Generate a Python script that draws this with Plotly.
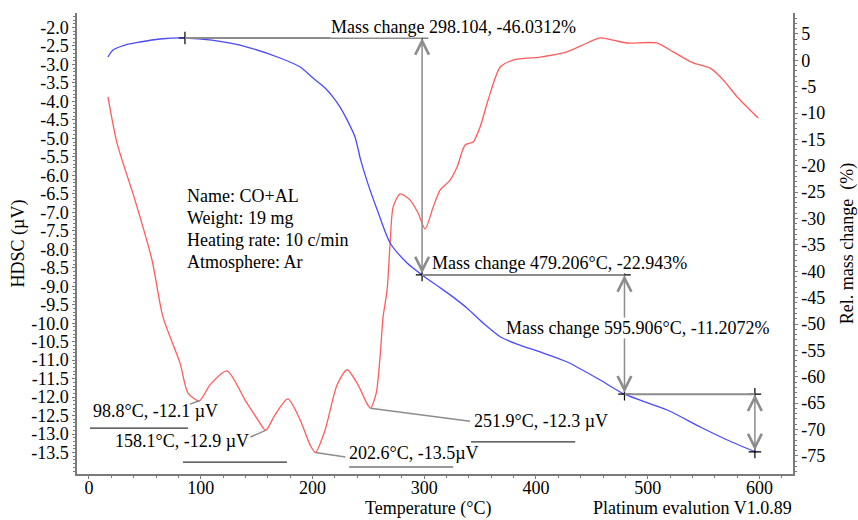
import plotly.graph_objects as go

# ---------------- data ----------------
# HDSC curve (left axis, µV)
dsc_temp = [17.0, 25.1, 41.2, 56.4, 66.2, 81.5, 88.6, 98.8, 108.3, 123.5, 139.7, 151.3, 158.1,
            166.5, 178.0, 189.0, 198.0, 202.6, 211.3, 222.0, 231.0, 240.8, 248.0, 251.9, 257.0,
            260.5, 263.2, 266.8, 269.5, 272.2, 278.4, 287.4, 294.5, 300.8, 308.0, 314.2, 323.2,
            329.5, 336.6, 343.8, 350.0, 357.2, 368.0, 379.6, 403.8, 424.4, 440.0, 457.5, 470.0,
            481.6, 508.5, 522.8, 540.7, 555.9, 567.6, 580.1, 598.9]
dsc_val = [-3.88, -5.13, -6.67, -8.29, -9.83, -11.08, -11.89, -12.10, -11.67, -11.29, -12.08, -12.62, -12.90,
           -12.48, -12.05, -12.62, -13.30, -13.50, -12.89, -11.67, -11.26, -11.67, -12.13, -12.30, -11.90,
           -10.91, -9.83, -9.10, -7.83, -6.86, -6.50, -6.67, -7.02, -7.45, -6.86, -6.40, -6.13,
           -5.77, -5.18, -5.10, -4.69, -3.96, -3.07, -2.88, -2.80, -2.69, -2.50, -2.28, -2.35,
           -2.42, -2.42, -2.66, -2.96, -3.10, -3.42, -3.88, -4.45]

# Relative mass change curve (right axis, %)
tg_temp = [17.0, 21.5, 32.2, 45.7, 63.6, 85.9, 110.0, 141.5, 171.0, 189.0, 200.5, 211.3, 218.4,
           224.7, 231.0, 238.0, 243.0, 249.0, 258.0, 269.5, 284.7, 298.1, 312.0, 325.9, 338.4, 352.7,
           368.0, 383.0, 406.5, 428.0, 457.5, 479.2, 517.5, 547.0, 571.2, 597.0]
tg_val = [0.62, 1.94, 2.89, 3.46, 4.03, 4.22, 3.80, 2.51, 0.43, -1.28, -3.36, -5.26, -6.97,
          -8.87, -11.30, -14.50, -18.80, -23.00, -28.40, -34.64, -38.43, -40.70, -42.80, -44.90, -47.00, -49.80,
          -52.40, -53.80, -55.50, -57.20, -60.62, -63.30, -66.30, -69.52, -71.98, -74.30]

# Mass-change evaluation points
mass_event_temp = [85.9, 298.1, 479.2, 595.9]
mass_event_val = [4.22, -40.70, -63.30, -74.25]
mass_event_labels = ["Mass change 298.104, -46.0312%",
                     "Mass change 479.206°C, -22.943%",
                     "Mass change 595.906°C, -11.2072%"]

# DSC peak evaluation points
peak_temp = [98.8, 158.1, 202.6, 251.9]
peak_val = [-12.1, -12.9, -13.5, -12.3]
peak_labels = ["98.8°C, -12.1 µV", "158.1°C, -12.9 µV", "202.6°C, -13.5µV", "251.9°C, -12.3 µV"]

info_lines = ["Name: CO+AL", "Weight: 19 mg", "Heating rate: 10 c/min", "Atmosphere: Ar"]

left_tickvals = [-2.0, -2.5, -3.0, -3.5, -4.0, -4.5, -5.0, -5.5, -6.0, -6.5, -7.0, -7.5, -8.0,
                 -8.5, -9.0, -9.5, -10.0, -10.5, -11.0, -11.5, -12.0, -12.5, -13.0, -13.5]
left_ticktext = ["-2.0", "-2.5", "-3.0", "-3.5", "-4.0", "-4.5", "-5.0", "-5.5", "-6.0", "-6.5",
                 "-7.0", "-7.5", "-8.0", "-8.5", "-9.0", "-9.5", "-10.0", "-10.5", "-11.0",
                 "-11.5", "-12.0", "-12.5", "-13.0", "-13.5"]
right_tickvals = [5, 0, -5, -10, -15, -20, -25, -30, -35, -40, -45, -50, -55, -60, -65, -70, -75]
right_ticktext = ["5", "0", "-5", "-10", "-15", "-20", "-25", "-30", "-35", "-40", "-45", "-50",
                  "-55", "-60", "-65", "-70", "-75"]
x_tickvals = [0, 100, 200, 300, 400, 500, 600]
x_ticktext = ["0", "100", "200", "300", "400", "500", "600"]

# ---------------- layout constants ----------------
FONT = "Liberation Serif, Times New Roman, serif"
FS = 18
GRAY = "#8c8c8c"
AXIS = "#7a7a7a"

# label placement (text centre x, y; underline x0, x1, y; leader start x, y) in left-axis data units
peak_label_layout = [
    dict(tx=59.1, ty=-12.38, ux0=0.9, ux1=88.6, uy=-12.84, lx=90.4, ly=-12.19),
    dict(tx=83.5, ty=-13.19, ux0=84.1, ux1=177.2, uy=-13.76, lx=144.5, ly=-13.08),
    dict(tx=291.0, ty=-13.51, ux0=232.8, ux1=325.9, uy=-13.89, lx=229.5, ly=-13.62),
    dict(tx=404.7, ty=-12.65, ux0=341.9, ux1=435.1, uy=-13.21, lx=341.0, ly=-12.65),
]
mass_label_layout = [(215.8, 6.3), (306.2, -38.43), (372.4, -50.75)]

fig = go.Figure()

fig.add_trace(go.Scatter(x=dsc_temp, y=dsc_val, mode="lines", name="HDSC",
                         line=dict(color="#ff5c5c", width=1.3, shape="spline", smoothing=0.7),
                         yaxis="y"))
fig.add_trace(go.Scatter(x=tg_temp, y=tg_val, mode="lines", name="Mass change",
                         line=dict(color="#4a4aff", width=1.3, shape="spline", smoothing=0.7),
                         yaxis="y2"))

shapes = []
annotations = []
cross_x, cross_y = [mass_event_temp[0]], [mass_event_val[0]]

for i in range(1, len(mass_event_temp)):
    t0, v0 = mass_event_temp[i - 1], mass_event_val[i - 1]
    t1, v1 = mass_event_temp[i], mass_event_val[i]
    shapes.append(dict(type="line", xref="x", yref="y2", x0=t0, x1=t1, y0=v0, y1=v0,
                       line=dict(color=GRAY, width=2)))
    annotations.append(dict(x=t1, y=v0, ax=t1, ay=v1, xref="x", yref="y2", axref="x", ayref="y2",
                            text="", showarrow=True, arrowhead=5, startarrowhead=5,
                            arrowside="end+start", arrowsize=1.8, startarrowsize=1.8,
                            arrowwidth=1.5, arrowcolor=GRAY, standoff=0, startstandoff=0))
    cross_x += [t1, t1]
    cross_y += [v0, v1]

fig.add_trace(go.Scatter(x=cross_x, y=cross_y, mode="markers", yaxis="y2", showlegend=False,
                         marker=dict(symbol="cross-thin", size=9, line=dict(color="black", width=1.2))))

for (lx, ly), txt in zip(mass_label_layout, mass_event_labels):
    annotations.append(dict(x=lx, y=ly, xref="x", yref="y2", text=txt, showarrow=False,
                            xanchor="left", yanchor="middle", bgcolor="white", borderpad=0,
                            font=dict(family=FONT, size=FS, color="black")))

for t, v, txt, L in zip(peak_temp, peak_val, peak_labels, peak_label_layout):
    shapes.append(dict(type="line", xref="x", yref="y", x0=L["lx"], y0=L["ly"], x1=t, y1=v,
                       line=dict(color=GRAY, width=1.5)))
    shapes.append(dict(type="line", xref="x", yref="y", x0=L["ux0"], x1=L["ux1"], y0=L["uy"], y1=L["uy"],
                       line=dict(color="#333333", width=1.2)))
    annotations.append(dict(x=L["tx"], y=L["ty"], xref="x", yref="y", text=txt, showarrow=False,
                            xanchor="center", yanchor="middle",
                            font=dict(family=FONT, size=FS, color="black")))

info_y = [-6.56, -7.155, -7.75, -8.345]
for yy, txt in zip(info_y, info_lines):
    annotations.append(dict(x=86, y=yy, xref="x", yref="y", text=txt, showarrow=False,
                            xanchor="left", yanchor="middle",
                            font=dict(family=FONT, size=FS, color="black")))

annotations.append(dict(x=0.859, y=-0.0738, xref="paper", yref="paper", text="Platinum evalution V1.0.89",
                        showarrow=False, xanchor="center", yanchor="middle",
                        font=dict(family=FONT, size=FS, color="black")))
annotations.append(dict(x=0.49, y=-0.0738, xref="paper", yref="paper", text="Temperature (°C)",
                        showarrow=False, xanchor="center", yanchor="middle",
                        font=dict(family=FONT, size=FS, color="black")))

fig.update_layout(
    width=858, height=520,
    margin=dict(l=77, r=65, t=13, b=46),
    paper_bgcolor="white", plot_bgcolor="white",
    showlegend=False,
    font=dict(family=FONT, size=FS, color="black"),
    shapes=shapes, annotations=annotations,
    xaxis=dict(range=[-10.7, 630], tickvals=x_tickvals, ticktext=x_ticktext,
               showgrid=False, zeroline=False, showline=True, linecolor=AXIS, linewidth=1.5,
               ticks="outside", ticklen=3, tickcolor=AXIS, automargin=False, ticklabelstandoff=-6,
               minor=dict(dtick=20, tick0=0, ticks="outside", ticklen=2, tickcolor=AXIS)),
    yaxis=dict(range=[-14.08, -1.608], tickvals=left_tickvals, ticktext=left_ticktext,
               showgrid=False, zeroline=False, showline=True, linecolor=AXIS, linewidth=1.5,
               ticks="outside", ticklen=3, tickcolor=AXIS, automargin=False,
               minor=dict(dtick=0.1, tick0=0, ticks="outside", ticklen=2, tickcolor=AXIS),
               title=dict(text="HDSC (µV)", standoff=2, font=dict(family=FONT, size=FS))),
    yaxis2=dict(range=[-78.43, 8.96], overlaying="y", side="right",
                tickvals=right_tickvals, ticktext=right_ticktext,
                showgrid=False, zeroline=False, showline=True, linecolor=AXIS, linewidth=1.5,
                ticks="outside", ticklen=3, tickcolor=AXIS, automargin=False,
                minor=dict(dtick=1, tick0=0, ticks="outside", ticklen=2, tickcolor=AXIS),
                title=dict(text="Rel. mass change\u00a0 (%)", standoff=17, font=dict(family=FONT, size=FS))),
)

fig.write_html("out.html")
